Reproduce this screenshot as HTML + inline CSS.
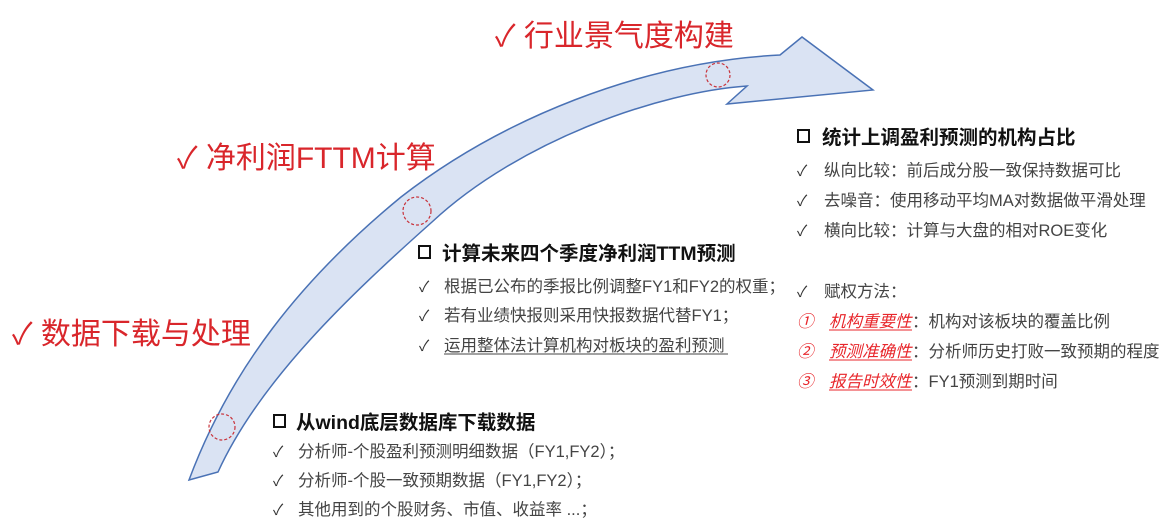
<!DOCTYPE html>
<html><head><meta charset="utf-8"><style>
html,body{margin:0;padding:0;background:#fff;}
svg{display:block;}
text{font-family:"Liberation Sans","Noto Sans CJK SC",sans-serif;}
.r{fill:#d9262b;font-size:30px;}
.t{fill:#111;font-size:19.5px;font-weight:bold;}
.i{fill:#444;font-size:16.5px;}
.ck{fill:#333;font-size:15px;}
.rn{fill:#e8262b;font-size:16.5px;font-style:italic;}
</style></head><body>
<svg width="1170" height="528" viewBox="0 0 1170 528" xmlns="http://www.w3.org/2000/svg">
<path d="M189,480 C230,370 300,280 401,197 C500,120 640,62 780,55 L802,37 L873,90 L727,104 L747,86 C660,92 520,140 432,222 C350,295 260,380 218,472 Z" fill="#dae3f3" stroke="#4a72b5" stroke-width="1.5" stroke-linejoin="miter"/>
<g fill="none" stroke="#c8323a" stroke-width="1.2" stroke-dasharray="3,2">
<circle cx="222" cy="427" r="13"/>
<circle cx="417" cy="211" r="14"/>
<circle cx="718" cy="75" r="12"/>
</g>
<text class="r" x="495" y="46">✓ 行业景气度构建</text>
<text class="r" x="177" y="168">✓ 净利润FTTM计算</text>
<text class="r" x="12" y="344">✓ 数据下载与处理</text>

<rect x="274" y="415" width="11" height="12" fill="none" stroke="#111" stroke-width="2"/>
<text class="t" x="296" y="429">从wind底层数据库下载数据</text>
<text class="ck" x="273" y="457">✓</text><text class="i" x="298" y="457">分析师-个股盈利预测明细数据（FY1,FY2）；</text>
<text class="ck" x="273" y="486">✓</text><text class="i" x="298" y="486">分析师-个股一致预期数据（FY1,FY2）；</text>
<text class="ck" x="273" y="515">✓</text><text class="i" x="298" y="515">其他用到的个股财务、市值、收益率 ...；</text>

<rect x="419" y="246" width="11" height="12" fill="none" stroke="#111" stroke-width="2"/>
<text class="t" x="442" y="260">计算未来四个季度净利润TTM预测</text>
<text class="ck" x="419" y="292">✓</text><text class="i" x="444" y="292">根据已公布的季报比例调整FY1和FY2的权重；</text>
<text class="ck" x="419" y="321">✓</text><text class="i" x="444" y="321">若有业绩快报则采用快报数据代替FY1；</text>
<text class="ck" x="419" y="351">✓</text><text class="i" x="444" y="351">运用整体法计算机构对板块的盈利预测</text>
<line x1="444" y1="354" x2="728" y2="354" stroke="#444" stroke-width="1"/>

<rect x="798" y="130" width="11" height="12" fill="none" stroke="#111" stroke-width="2"/>
<text class="t" x="822" y="144">统计上调盈利预测的机构占比</text>
<text class="ck" x="797" y="176">✓</text><text class="i" x="824" y="176">纵向比较：前后成分股一致保持数据可比</text>
<text class="ck" x="797" y="206">✓</text><text class="i" x="824" y="206">去噪音：使用移动平均MA对数据做平滑处理</text>
<text class="ck" x="797" y="236">✓</text><text class="i" x="824" y="236">横向比较：计算与大盘的相对ROE变化</text>
<text class="ck" x="797" y="297">✓</text><text class="i" x="824" y="297">赋权方法：</text>
<text class="rn" x="797" y="327">①</text><text class="rn" x="829" y="327">机构重要性</text><text class="i" x="912" y="327">：机构对该板块的覆盖比例</text>
<text class="rn" x="797" y="357">②</text><text class="rn" x="829" y="357">预测准确性</text><text class="i" x="912" y="357">：分析师历史打败一致预期的程度</text>
<text class="rn" x="797" y="387">③</text><text class="rn" x="829" y="387">报告时效性</text><text class="i" x="912" y="387">：FY1预测到期时间</text>
<g stroke="#e8262b" stroke-width="1">
<line x1="829" y1="330" x2="912" y2="330"/>
<line x1="829" y1="360" x2="912" y2="360"/>
<line x1="829" y1="390" x2="912" y2="390"/>
</g>
</svg>
</body></html>
